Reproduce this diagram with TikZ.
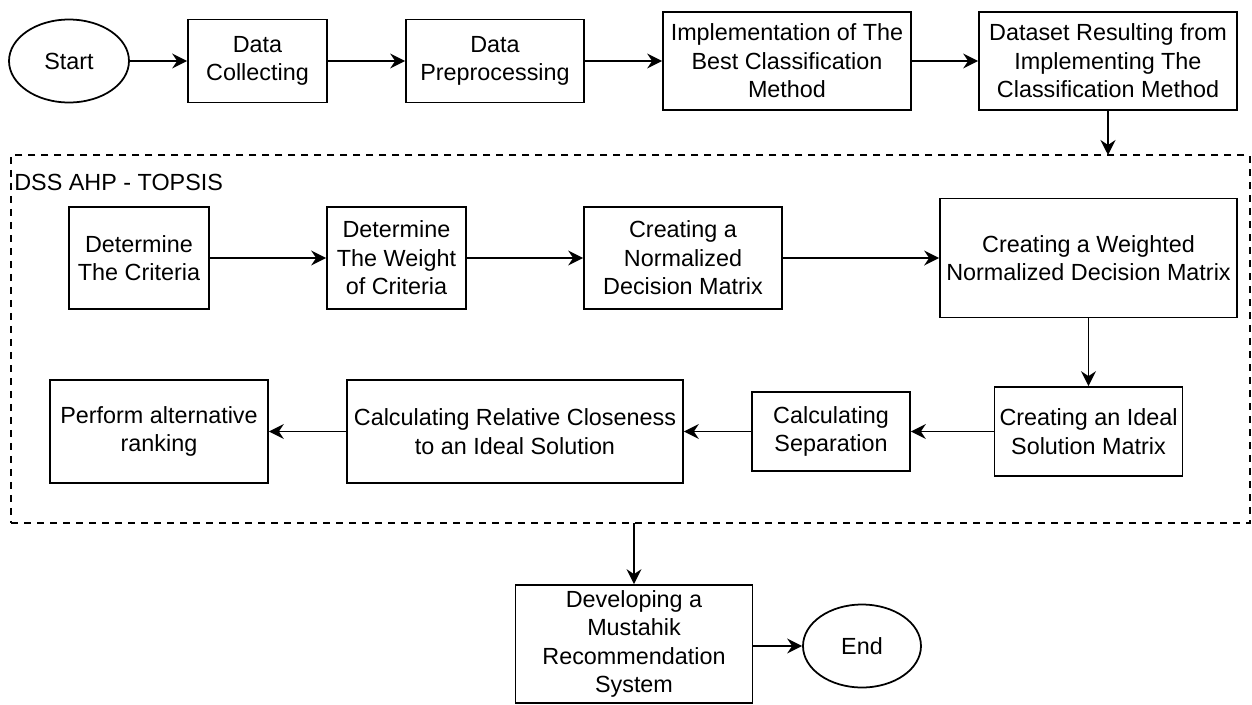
\documentclass[tikz,border=0pt]{standalone}
\usepackage{fontspec}
\setmainfont{Liberation Sans}
\usetikzlibrary{arrows.meta,shapes.geometric}
\begin{document}
\begin{tikzpicture}[x=0.02cm,y=-0.02cm]
\tikzset{
 base/.style={draw=black, line width=1pt, inner sep=0pt, align=center, font=\fontsize{13.3}{16.2}\selectfont},
 box/.style={base, rectangle},
 term/.style={base, ellipse},
 arr/.style={line width=1pt, -{Stealth[length=0.3cm, width=0.3cm, inset=0.1cm]}},
 frame/.style={draw=black, line width=0.9pt, dash pattern=on 4pt off 3.4pt, rectangle, inner sep=0pt},
}
\useasboundingbox (0,0) rectangle (1252,704);
% container
\node[frame, minimum width=24.78cm, minimum height=7.36cm] (dss) at (630.5,339) {};
\node[anchor=west, inner sep=0pt, font=\fontsize{13.3}{16.2}\selectfont] (dsslabel) at (14,182) {DSS AHP - TOPSIS};
\coordinate (dtop) at (1108,155);
\coordinate (dbot) at (634,523);
% top row
\node[term, minimum width=2.4cm, minimum height=1.66cm] (start) at (69,61) {Start};
\node[box, minimum width=2.78cm, minimum height=1.66cm] (dc) at (257.5,61) {Data\\Collecting};
\node[box, minimum width=3.56cm, minimum height=1.66cm] (dp) at (495,61) {Data\\Preprocessing};
\node[box, minimum width=4.96cm, minimum height=1.96cm] (impl) at (787,61) {Implementation of The\\Best Classification\\Method};
\node[box, minimum width=5.16cm, minimum height=1.96cm] (ds) at (1108,61) {Dataset Resulting from\\Implementing The\\Classification Method};
% second row
\node[box, minimum width=2.8cm, minimum height=2.04cm] (dcrit) at (139,258) {Determine\\The Criteria};
\node[box, minimum width=2.78cm, minimum height=2.04cm] (dweight) at (396.5,258) {Determine\\The Weight\\of Criteria};
\node[box, minimum width=3.96cm, minimum height=2.04cm] (cnorm) at (683,258) {Creating a\\Normalized\\Decision Matrix};
\node[box, minimum width=5.94cm, minimum height=2.38cm] (cweight) at (1088.5,258) {Creating a Weighted\\Normalized Decision Matrix};
% third row
\node[box, minimum width=3.76cm, minimum height=1.78cm] (cideal) at (1088.5,431.5) {Creating an Ideal\\Solution Matrix};
\node[box, minimum width=3.16cm, minimum height=1.58cm] (csep) at (831,431.5) {Calculating\\Separation};
\node[box, minimum width=6.72cm, minimum height=2.06cm] (crel) at (515,431.5) {Calculating Relative Closeness\\to an Ideal Solution};
\node[box, minimum width=4.36cm, minimum height=2.06cm] (perf) at (159,431.5) {Perform alternative\\ranking};
% bottom
\node[box, minimum width=4.74cm, minimum height=2.36cm] (dev) at (634,644) {Developing a\\Mustahik\\Recommendation\\System};
\node[term, minimum width=2.36cm, minimum height=1.66cm] (end) at (862,646) {End};
% connectors
\draw[arr] (start) -- (dc);
\draw[arr] (dc) -- (dp);
\draw[arr] (dp) -- (impl);
\draw[arr] (impl) -- (ds);
\draw[arr] (ds.south) -- (dtop);
\draw[arr] (dcrit) -- (dweight);
\draw[arr] (dweight) -- (cnorm);
\draw[arr] (cnorm) -- (cweight);
\draw[arr] (cweight) -- (cideal);
\draw[arr] (cideal) -- (csep);
\draw[arr] (csep) -- (crel);
\draw[arr] (crel) -- (perf);
\draw[arr] (dbot) -- (dev.north);
\draw[arr] (dev.east |- end.west) -- (end.west);
\end{tikzpicture}
\end{document}
